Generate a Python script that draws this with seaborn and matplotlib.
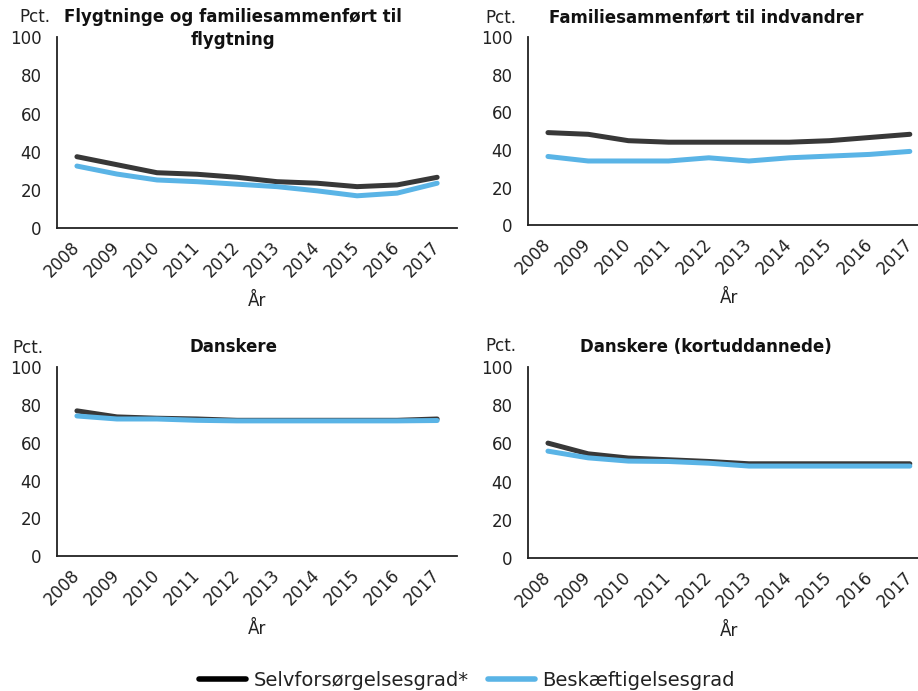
import pandas as pd
import matplotlib.pyplot as plt
import seaborn as sns
from matplotlib.lines import Line2D

# data
years = ["2008", "2009", "2010", "2011", "2012", "2013", "2014", "2015", "2016", "2017"]

titles = [
    "Flygtninge og familiesammenført til\nflygtning",
    "Familiesammenført til indvandrer",
    "Danskere",
    "Danskere (kortuddannede)",
]

selv_flygt = [37.4, 33.2, 29.0, 28.2, 26.6, 24.3, 23.5, 21.7, 22.6, 26.6]
besk_flygt = [32.5, 28.3, 25.2, 24.3, 23.0, 21.7, 19.5, 16.9, 18.3, 23.5]

selv_fam = [49.3, 48.4, 45.0, 44.2, 44.2, 44.2, 44.2, 45.0, 46.7, 48.4]
besk_fam = [36.6, 34.2, 34.2, 34.2, 35.9, 34.2, 35.9, 36.8, 37.7, 39.3]

selv_dk = [76.8, 73.6, 72.9, 72.5, 71.8, 71.8, 71.8, 71.8, 71.8, 72.5]
besk_dk = [74.1, 72.5, 72.5, 71.8, 71.5, 71.5, 71.5, 71.5, 71.5, 71.7]

selv_kort = [60.2, 54.6, 52.4, 51.5, 50.6, 49.4, 49.4, 49.4, 49.4, 49.4]
besk_kort = [56.0, 52.5, 50.8, 50.6, 49.7, 48.2, 48.2, 48.2, 48.2, 48.2]

series_names = ["Selvforsørgelsesgrad*", "Beskæftigelsesgrad"]
panels = [
    (selv_flygt, besk_flygt),
    (selv_fam, besk_fam),
    (selv_dk, besk_dk),
    (selv_kort, besk_kort),
]

colors = {"Selvforsørgelsesgrad*": "#383838", "Beskæftigelsesgrad": "#5AB4E6"}

sns.set_theme(style="white")
plt.rcParams["font.family"] = ["DejaVu Sans"]
plt.rcParams["text.color"] = "#222222"

fig = plt.figure(figsize=(9.18, 6.91), dpi=100)

# axes positions in figure fractions (left, bottom, width, height)
boxes = [
    (0.062, 0.670, 0.436, 0.276),
    (0.575, 0.674, 0.438, 0.272),
    (0.062, 0.195, 0.436, 0.274),
    (0.575, 0.192, 0.438, 0.277),
]
title_pos = [(233, 8), (706, 8), (233, 338), (706, 338)]
pct_pos = [(19, 17), (485, 18), (12, 348), (485, 346)]

for i, (selv, besk) in enumerate(panels):
    ax = fig.add_axes(boxes[i])
    df = pd.DataFrame({
        "year": years * 2,
        "value": selv + besk,
        "serie": [series_names[0]] * len(years) + [series_names[1]] * len(years),
    })
    sns.lineplot(data=df, x="year", y="value", hue="serie", palette=colors,
                 linewidth=3.6, legend=False, ax=ax, sort=False)
    for ln in ax.get_lines():
        ln.set_solid_capstyle("round")
        ln.set_solid_joinstyle("round")
    ax.set_xlim(-0.5, 9.5)
    ax.set_ylim(0, 100)
    ax.set_yticks([0, 20, 40, 60, 80, 100])
    ax.set_ylabel("")
    ax.set_xlabel("År", fontsize=12, color="#222222", labelpad=8)
    ax.tick_params(axis="both", length=0, labelsize=12, colors="#222222")
    ax.tick_params(axis="y", pad=11)
    ax.tick_params(axis="x", pad=12)
    for lab in ax.get_xticklabels():
        lab.set_rotation(45)
        lab.set_ha("right")
        lab.set_va("center")
        lab.set_rotation_mode("anchor")
    sns.despine(ax=ax)
    for s in ["left", "bottom"]:
        ax.spines[s].set_color("#222222")
        ax.spines[s].set_linewidth(1.3)

    tx, ty = title_pos[i]
    fig.text(tx / 918, 1 - ty / 691, titles[i], ha="center", va="top",
             fontsize=12, fontweight="bold", color="#111111", linespacing=1.35)
    px, py = pct_pos[i]
    fig.text(px / 918, 1 - py / 691, "Pct.", ha="left", va="center",
             fontsize=12, color="#222222")

handles = [
    Line2D([], [], color="black", linewidth=4),
    Line2D([], [], color=colors["Beskæftigelsesgrad"], linewidth=4),
]
fig.legend(handles, series_names, loc="center", bbox_to_anchor=(467 / 918, 1 - 680 / 691),
           ncol=2, frameon=False, fontsize=14, handlelength=2.4, columnspacing=1.0,
           handletextpad=0.4)

fig.savefig("out.png", dpi=100)
